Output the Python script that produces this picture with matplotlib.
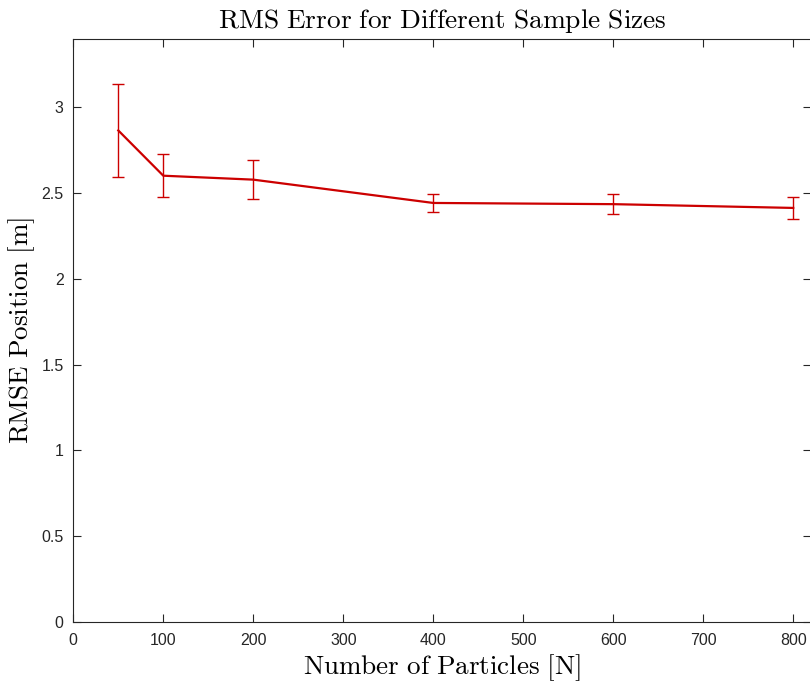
import matplotlib.pyplot as plt
import numpy as np

plt.rcParams['mathtext.fontset'] = 'cm'
plt.rcParams['font.family'] = ['Liberation Sans', 'DejaVu Sans']

# particle counts and RMSE results
num_particles = np.array([50, 100, 200, 400, 600, 800])
rmse_mean = np.array([2.866, 2.602, 2.579, 2.443, 2.436, 2.414])
rmse_std = np.array([0.270, 0.127, 0.112, 0.053, 0.057, 0.066])

fig = plt.figure(figsize=(8.1, 6.83), dpi=100)
ax = fig.add_axes([0.0905, 0.0898, 0.911, 0.8532])

red = '#cc0000'
ax.errorbar(num_particles, rmse_mean, yerr=rmse_std, color=red,
            linewidth=1.6, elinewidth=1.0, capsize=4.5, capthick=1.0)

ax.set_xlim(0, 820)
ax.set_ylim(0, 3.4)
ax.set_xticks(np.arange(0, 801, 100))
ax.set_yticks([0, 0.5, 1, 1.5, 2, 2.5, 3])
ax.set_yticklabels(['0', '0.5', '1', '1.5', '2', '2.5', '3'])

gray = '#262626'
for s in ax.spines.values():
    s.set_color(gray)
    s.set_linewidth(0.8)
ax.tick_params(direction='in', length=5.5, width=0.8, color=gray,
               labelcolor=gray, labelsize=11.5, top=True, right=True)
ax.tick_params(axis='x', pad=8)
ax.tick_params(axis='y', pad=7)

ax.set_title(r'$\mathrm{RMS\ Error\ for\ Different\ Sample\ Sizes}$',
             fontsize=19.7, pad=8)
ax.set_xlabel(r'$\mathrm{Number\ of\ Particles\ [N]}$', fontsize=19.5, labelpad=3)
ax.set_ylabel(r'$\mathrm{RMSE\ Position\ [m]}$', fontsize=19.5, labelpad=3)

fig.savefig('out.png', dpi=100)
